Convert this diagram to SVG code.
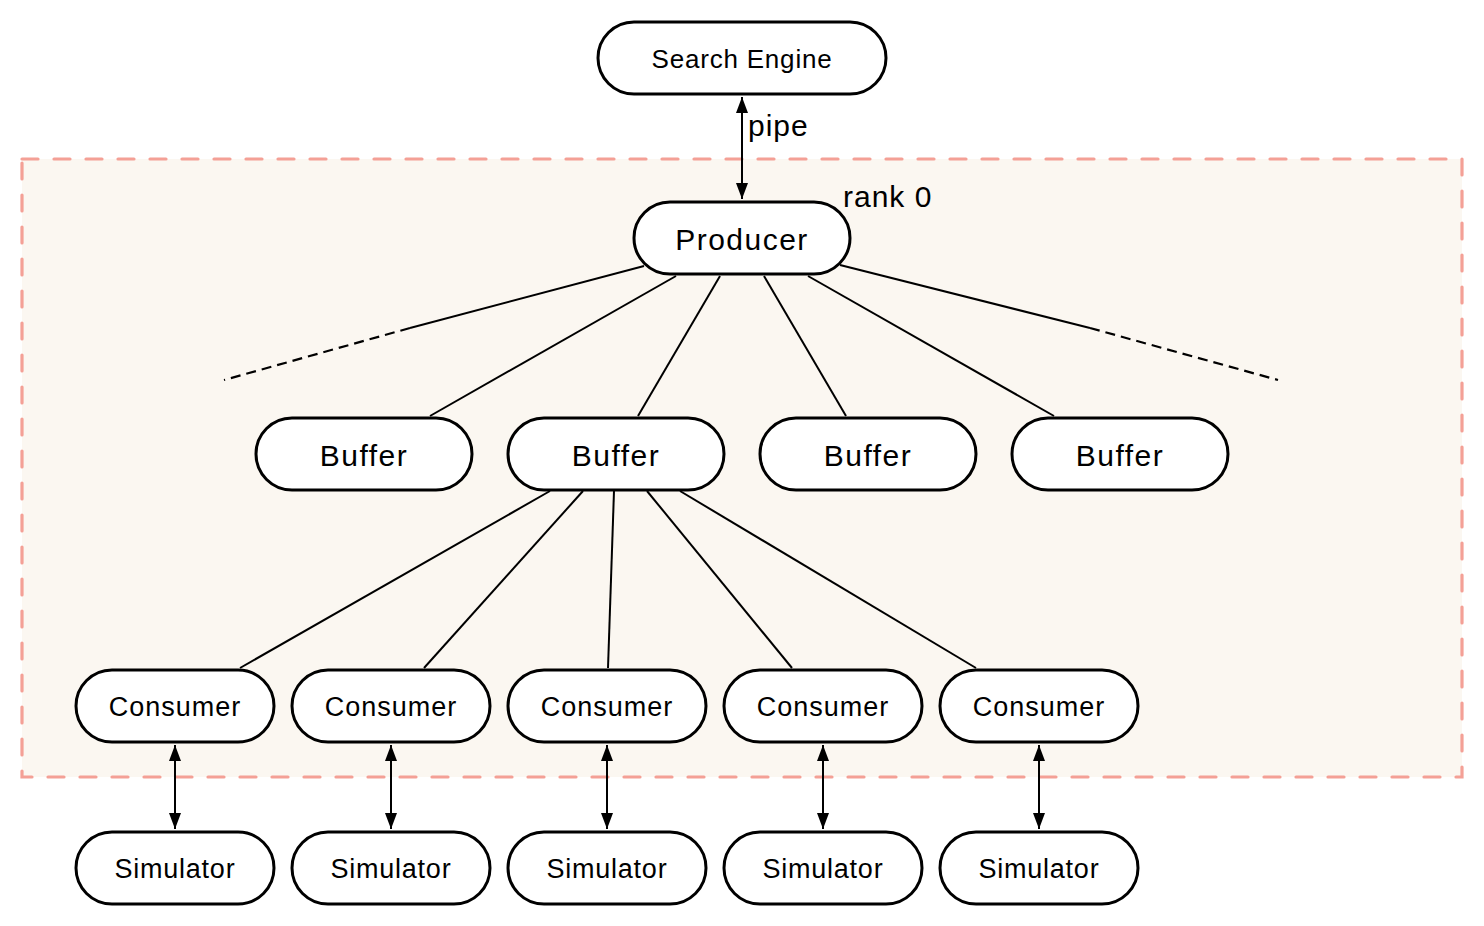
<svg xmlns="http://www.w3.org/2000/svg" width="1484" height="926" viewBox="0 0 1484 926">
<defs>
<style>
.n rect{fill:#fff;stroke:#000;stroke-width:3}
.n text{font-family:"Liberation Sans",Arial,sans-serif;fill:#000;text-anchor:middle;dominant-baseline:central}
.s{font-size:26px;letter-spacing:0.8px}
.b{font-size:30px;letter-spacing:1.5px}
.c{font-size:27px;letter-spacing:1px}
.sm{font-size:27px;letter-spacing:0.75px}
.lbl{font-family:"Liberation Sans",Arial,sans-serif;font-size:30px;fill:#000;letter-spacing:1px}
.ln{stroke:#000;stroke-width:2;fill:none}
.dl{stroke:#000;stroke-width:2.2;fill:none;stroke-dasharray:10,6}
.ar{stroke:#000;stroke-width:2;fill:none;marker-start:url(#ah);marker-end:url(#ah)}
</style>
<marker id="ah" viewBox="0 0 16 12" refX="16" refY="6" markerWidth="16" markerHeight="12" orient="auto-start-reverse" markerUnits="userSpaceOnUse">
<path d="M0,0 L16,6 L0,12 z" fill="#000"/>
</marker>
</defs>
<rect width="1484" height="926" fill="#fff"/>
<rect x="22" y="159" width="1440" height="618" fill="#FBF7F1" stroke="#F4A096" stroke-width="3.2" stroke-dasharray="16,16" stroke-linecap="round"/>
<g id="connectors">
<line class="ln" x1="644" y1="266" x2="410" y2="328"/>
<line class="dl" x1="410" y1="328" x2="224" y2="380"/>
<line class="ln" x1="676" y1="276" x2="430" y2="416"/>
<line class="ln" x1="720" y1="276" x2="638" y2="416"/>
<line class="ln" x1="764" y1="276" x2="846" y2="416"/>
<line class="ln" x1="808" y1="276" x2="1054" y2="416"/>
<line class="ln" x1="840" y1="265" x2="1090" y2="328"/>
<line class="dl" x1="1090" y1="328" x2="1278" y2="380"/>
<line class="ln" x1="550" y1="491" x2="240" y2="668"/>
<line class="ln" x1="583" y1="491" x2="424" y2="668"/>
<line class="ln" x1="614" y1="491" x2="608" y2="668"/>
<line class="ln" x1="647" y1="491" x2="792" y2="668"/>
<line class="ln" x1="680" y1="491" x2="976" y2="668"/>
<line class="ar" x1="742" y1="97" x2="742" y2="199"/>
<line class="ar" x1="175" y1="745" x2="175" y2="829"/>
<line class="ar" x1="391" y1="745" x2="391" y2="829"/>
<line class="ar" x1="607" y1="745" x2="607" y2="829"/>
<line class="ar" x1="823" y1="745" x2="823" y2="829"/>
<line class="ar" x1="1039" y1="745" x2="1039" y2="829"/>
<text class="lbl" x="748" y="136">pipe</text>
<text class="lbl" x="843" y="207">rank 0</text>
</g>
<g id="search-engine" class="n"><rect x="598" y="22" width="288" height="72" rx="36"/><text class="s" x="742" y="59">Search Engine</text></g>
<g id="producer" class="n"><rect x="634" y="202" width="216" height="72" rx="36"/><text class="b" x="742" y="239">Producer</text></g>
<g id="buffer1" class="n"><rect x="256" y="418" width="216" height="72" rx="36"/><text class="b" x="364" y="455">Buffer</text></g>
<g id="buffer2" class="n"><rect x="508" y="418" width="216" height="72" rx="36"/><text class="b" x="616" y="455">Buffer</text></g>
<g id="buffer3" class="n"><rect x="760" y="418" width="216" height="72" rx="36"/><text class="b" x="868" y="455">Buffer</text></g>
<g id="buffer4" class="n"><rect x="1012" y="418" width="216" height="72" rx="36"/><text class="b" x="1120" y="455">Buffer</text></g>
<g id="consumer1" class="n"><rect x="76" y="670" width="198" height="72" rx="36"/><text class="c" x="175" y="707">Consumer</text></g>
<g id="consumer2" class="n"><rect x="292" y="670" width="198" height="72" rx="36"/><text class="c" x="391" y="707">Consumer</text></g>
<g id="consumer3" class="n"><rect x="508" y="670" width="198" height="72" rx="36"/><text class="c" x="607" y="707">Consumer</text></g>
<g id="consumer4" class="n"><rect x="724" y="670" width="198" height="72" rx="36"/><text class="c" x="823" y="707">Consumer</text></g>
<g id="consumer5" class="n"><rect x="940" y="670" width="198" height="72" rx="36"/><text class="c" x="1039" y="707">Consumer</text></g>
<g id="simulator1" class="n"><rect x="76" y="832" width="198" height="72" rx="36"/><text class="sm" x="175" y="869">Simulator</text></g>
<g id="simulator2" class="n"><rect x="292" y="832" width="198" height="72" rx="36"/><text class="sm" x="391" y="869">Simulator</text></g>
<g id="simulator3" class="n"><rect x="508" y="832" width="198" height="72" rx="36"/><text class="sm" x="607" y="869">Simulator</text></g>
<g id="simulator4" class="n"><rect x="724" y="832" width="198" height="72" rx="36"/><text class="sm" x="823" y="869">Simulator</text></g>
<g id="simulator5" class="n"><rect x="940" y="832" width="198" height="72" rx="36"/><text class="sm" x="1039" y="869">Simulator</text></g>
</svg>
